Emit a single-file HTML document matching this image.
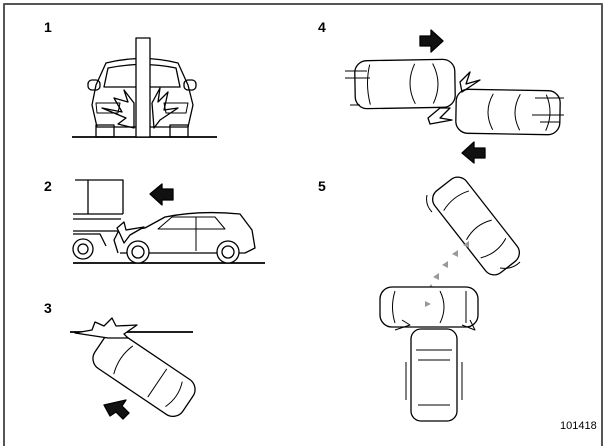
<!DOCTYPE html>
<html><head><style>
html,body{margin:0;padding:0;background:#fff;}
svg{display:block;}
text{font-family:"Liberation Sans",sans-serif;}
</style></head><body>
<svg width="607" height="446" viewBox="0 0 607 446" xmlns="http://www.w3.org/2000/svg" fill="none" stroke="#000" stroke-width="1.3" stroke-linejoin="round">
<path d="M4 446 V4 H602 V446" stroke="#555" stroke-width="2"/>
<g font-weight="bold" font-size="14" fill="#000" stroke="none">
<text x="44" y="32">1</text><text x="318" y="32">4</text>
<text x="44" y="191">2</text><text x="318" y="191">5</text>
<text x="44" y="313">3</text>
</g>
<text x="560" y="429" font-size="11" fill="#000" stroke="none">101418</text>

<!-- Scene 1 -->
<line x1="72" y1="137" x2="217" y2="137" stroke-width="1.8"/>
<path d="M97 127 L92 105 L96 85 L106 63 Q142 54 178 63 L188 85 L193 105 L188 127 Z"/>
<path d="M108 68 Q142 61 176 68 L180 87 L104 87 Z"/>
<rect x="88" y="80" width="12" height="10" rx="4"/><rect x="184" y="80" width="12" height="10" rx="4"/>
<path d="M96 103 H120 L118 113 H97 Z M164 103 H188 L186 113 H166 Z" stroke-width="1"/>
<rect x="96" y="125" width="18" height="12"/><rect x="170" y="125" width="18" height="12"/>
<path d="M102 108 L122 112 L114 98 L128 102 L124 90 L134 103 L134 128 L118 124 L126 118 Z"/>
<path d="M152 103 L160 88 L158 102 L168 92 L164 110 L178 108 L160 120 L154 128 Z"/>
<rect x="136" y="38" width="14" height="99" fill="#fff"/>

<!-- Scene 2 -->
<line x1="73" y1="263" x2="265" y2="263" stroke-width="1.8"/>
<path d="M75 180 H123 V214"/><line x1="88" y1="180" x2="88" y2="214"/>
<path d="M73 214 H123 M73 219 H121 M73 231 H118 M73 234 H100 L106 246"/>
<circle cx="83" cy="249" r="10"/><circle cx="83" cy="249" r="5"/>
<path d="M118 253 L114 240 L118 232 L145 228 L165 217 Q200 210 240 214 L252 230 L255 248 L245 253 H120"/>
<path d="M158 229 L172 217 H215 L225 229 Z" stroke-width="1"/>
<line x1="196" y1="217" x2="196" y2="251" stroke-width="1"/>
<circle cx="138" cy="252" r="11" fill="#fff"/><circle cx="138" cy="252" r="6"/>
<circle cx="228" cy="252" r="11" fill="#fff"/><circle cx="228" cy="252" r="6"/>
<path d="M117 228 L124 222 L126 230 L144 227 L130 235 L124 243 L120 234 Z" fill="#fff"/>
<path d="M150 194 L162 184 V189 H173 V200 H162 V205 Z" fill="#111"/>

<!-- Scene 3 -->
<line x1="70" y1="332" x2="193" y2="332" stroke-width="1.8"/>
<g transform="translate(144,374) rotate(34)">
<rect x="-53" y="-21" width="106" height="42" rx="12" fill="#fff"/>
<path d="M-25 -17 Q-31 0 -25 17 M16 -17 L16 17 M36 -15 Q42 0 36 15" stroke-width="1"/>
</g>
<path d="M75 333 L92 330 L95 322 L104 326 L112 318 L116 326 L137 325 L124 334 L128 338 L108 338 Z" fill="#fff"/>
<path d="M104 405 L126 400 L122 406 L129 413 L123 419 L116 412 L110 416 Z" fill="#111"/>

<!-- Scene 4 -->
<g transform="translate(405,84) rotate(-1)">
<rect x="-50" y="-24" width="100" height="48" rx="12" fill="#fff"/>
<path d="M-35 -20 Q-40 0 -35 20 M10 -20 Q0 0 10 20 M28 -20 Q38 0 28 20" stroke-width="1"/>
</g>
<g transform="translate(508,112) rotate(1)">
<rect x="-52" y="-22" width="104" height="44" rx="12" fill="#fff"/>
<path d="M-15 -18 Q-25 0 -15 18 M12 -18 Q2 0 12 18 M38 -18 Q46 0 38 18" stroke-width="1"/>
</g>
<path d="M345 71 H367 M345 78 H370 M350 105 H360 M535 98 H564 M532 115 H564 M540 122 H560" stroke-width="1"/>
<path d="M460 82 L470 72 L466 84 L480 80 L462 92 Z M428 118 L440 108 L450 108 L440 118 L452 120 L430 124 Z"/>
<path d="M420 36 H431 V30 L443 41 L431 52 V46 H420 Z" fill="#111"/>
<path d="M485 148 H474 V142 L462 153 L474 163 V158 H485 Z" fill="#111"/>

<!-- Scene 5 -->
<g transform="translate(476,226) rotate(52)">
<rect x="-52" y="-20" width="104" height="40" rx="11" fill="#fff"/>
<path d="M-32 -16 Q-38 0 -32 16 M5 -16 Q-2 0 5 16 M28 -16 Q35 0 28 16" stroke-width="1"/>
</g>
<path d="M427 195 Q425 205 432 212 M520 262 Q512 270 500 268" stroke-width="1"/>
<g fill="#999" stroke="none">
<path d="M463 245 l6 -4 l0 7z M452 254 l6 -4 l0 7z M442 265 l6 -4 l0 7z M433 277 l6 -4 l0 7z M428 289 l6 0 l-3 -5z"/>
</g>
<rect x="380" y="287" width="98" height="40" rx="12" fill="#fff"/>
<path d="M395 291 Q390 307 395 323 M440 291 Q448 307 440 323 M466 291 V323" stroke-width="1"/>
<path d="M425 301 l6 3 l-6 3 z" fill="#999" stroke="none"/>
<rect x="411" y="329" width="46" height="92" rx="10" fill="#fff"/>
<path d="M416 350 H452 M418 360 H450 M418 405 H450 M406 362 V400 M462 362 V400" stroke-width="1"/>
<path d="M395 330 L410 325 L402 320 M462 325 L475 330 L470 320" stroke-width="1"/>
</svg>
</body></html>
